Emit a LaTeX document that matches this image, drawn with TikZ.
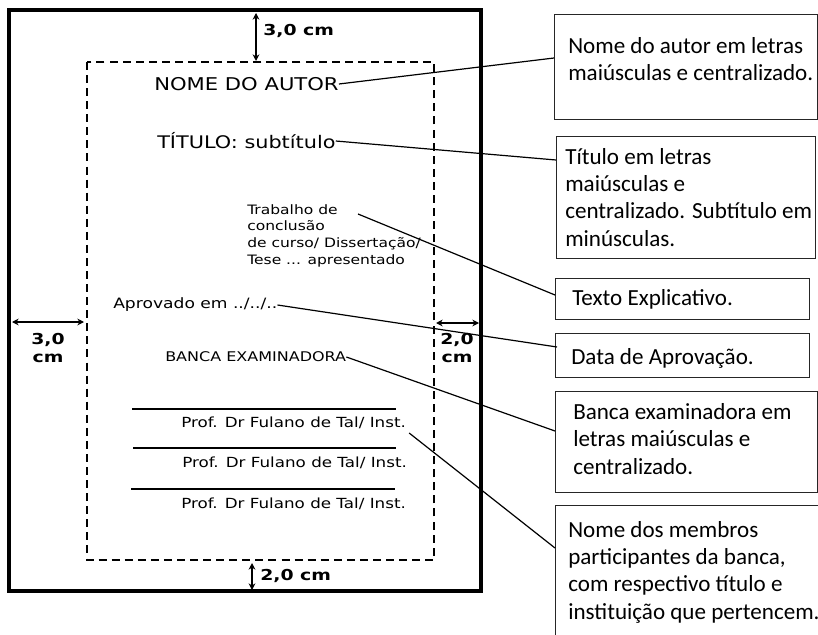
\documentclass[tikz,border=0pt]{standalone}
\usepackage{fontspec}
\setmainfont{DejaVu Sans}
\newfontfamily\vf[FakeStretch=1.2]{DejaVu Sans}
\newfontfamily\lab[FakeStretch=1.25]{DejaVu Sans}
\newfontfamily\calfont{Carlito}
\usetikzlibrary{arrows.meta,calc}
\begin{document}
\begin{tikzpicture}[x=0.75pt,y=-0.75pt,
  txt/.style={inner sep=0,anchor=west,font=\vf},
  marg/.style={inner sep=0,align=center,font=\lab\bfseries\fontsize{11.3}{13}\selectfont},
  callout/.style={draw=black!85,line width=1pt,anchor=north west,inner sep=0},
  ctext/.style={inner sep=0,anchor=base west,align=left,font=\calfont\fontsize{17.3}{20.3}\selectfont},
  conn/.style={line width=0.9pt},
  dim/.style={line width=1.5pt,{Stealth[length=5pt,width=5pt]}-{Stealth[length=5pt,width=5pt]}},
  sig/.style={line width=2.2pt}
]
\useasboundingbox (0,0) rectangle (818,635);
\fill[white] (0,0) rectangle (818,635);

% page and margins
\draw[line width=2.7pt] (9,10) rectangle (481,591);
\draw[line width=1.9pt,dash pattern=on 6pt off 3.8pt] (87,62) rectangle (434,560);

% dimension arrows
\coordinate (tA) at (256,13);   \coordinate (tB) at (256,61);
\coordinate (bA) at (252,563);  \coordinate (bB) at (252,590);
\coordinate (lA) at (12,322);   \coordinate (lB) at (84,322);
\coordinate (rA) at (436,323);  \coordinate (rB) at (479,323);
\draw[dim] (tA) -- (tB);
\draw[dim] (bA) -- (bB);
\draw[dim] (lA) -- (lB);
\draw[dim] (rA) -- (rB);
\node[marg,anchor=west] (mtop) at (263,31) {3,0 cm};
\node[marg,anchor=west] (mbot) at (260,576) {2,0 cm};
\node[marg] (mleft) at (48,348) {3,0\\cm};
\node[marg] (mright) at (457,348) {2,0\\cm};

% page contents
\node[txt,font=\vf\fontsize{13.2}{15}\selectfont] (nome) at (154,84) {NOME DO AUTOR};
\node[txt,font=\vf\fontsize{13}{15}\selectfont] (titulo) at (157,141) {TÍTULO: subtítulo};
\node[inner sep=0,anchor=north west,align=left,font=\vf\fontsize{9.7}{12.5}\selectfont] (trab) at (247,204)
  {Trabalho de\\conclusão\\de curso/ Dissertação/\\Tese ... apresentado};
\coordinate (trabpt) at (358,214);
\node[txt,font=\vf\fontsize{10.7}{13}\selectfont] (aprov) at (113,305) {Aprovado em ../../..};
\node[txt,font=\vf\fontsize{10}{12}\selectfont] (banca) at (165,357) {BANCA EXAMINADORA};

\coordinate (s1a) at (132,409); \coordinate (s1b) at (396,409);
\coordinate (s2a) at (133,448); \coordinate (s2b) at (396,448);
\coordinate (s3a) at (131,489); \coordinate (s3b) at (395,489);
\draw[sig] (s1a) -- (s1b);
\draw[sig] (s2a) -- (s2b);
\draw[sig] (s3a) -- (s3b);
\node[txt,font=\vf\fontsize{10.45}{12}\selectfont] (prof1) at (181,423) {Prof. Dr Fulano de Tal/ Inst.};
\node[txt,font=\vf\fontsize{10.45}{12}\selectfont] (prof2) at (182,463) {Prof. Dr Fulano de Tal/ Inst.};
\node[txt,font=\vf\fontsize{10.45}{12}\selectfont] (prof3) at (181,504) {Prof. Dr Fulano de Tal/ Inst.};

% callout boxes
\node[callout,minimum width=197.25pt,minimum height=78.75pt] (b1) at (554,14) {};
\node[callout,minimum width=194.25pt,minimum height=91.5pt] (b2) at (556,136) {};
\node[callout,minimum width=190.5pt,minimum height=30.75pt] (b3) at (555,278) {};
\node[callout,minimum width=190.5pt,minimum height=33pt] (b4) at (555,333) {};
\node[callout,minimum width=196.5pt,minimum height=75.75pt] (b5) at (555,391) {};
\node[callout,minimum width=197.25pt,minimum height=105pt] (b6) at (555,505) {};

% (base anchor = baseline of the last line)
\node[ctext] (t1) at (568,81) {Nome do autor em letras\\maiúsculas e centralizado.};
\node[ctext] (t2) at (565,246) {Título em letras\\maiúsculas e\\centralizado. Subtítulo em\\minúsculas.};
\node[ctext] (t3) at (572,305) {Texto Explicativo.};
\node[ctext] (t4) at (571,364) {Data de Aprovação.};
\node[ctext] (t5) at (573,474) {Banca examinadora em\\letras maiúsculas e\\centralizado.};
\node[ctext] (t6) at (568,619) {Nome dos membros\\participantes da banca,\\com respectivo título e\\instituição que pertencem.};

% connectors
\draw[conn] (nome.east) -- ($(b1.north west)+(0,44)$);
\draw[conn] (titulo.east) -- ($(b2.north west)+(0,24)$);
\draw[conn] (trabpt) -- ($(b3.north west)+(0,17)$);
\draw[conn] (aprov.east) -- ($(b4.north west)+(2,14)$);
\draw[conn] (banca.east) -- ($(b5.north west)+(0,40)$);
\draw[conn] ($(prof1.east)+(3,10)$) -- ($(b6.north west)+(0,43)$);
\end{tikzpicture}
\end{document}
